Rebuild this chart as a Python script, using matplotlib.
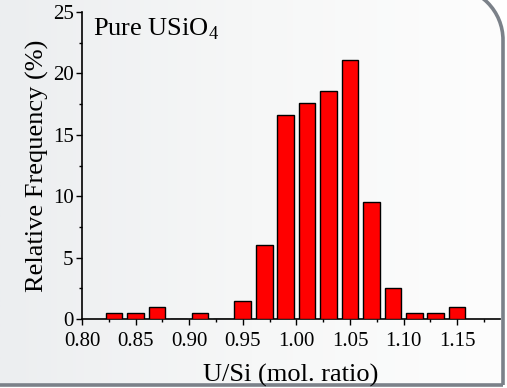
import numpy as np
import matplotlib
matplotlib.use("Agg")
import matplotlib.pyplot as plt
from matplotlib.ticker import MultipleLocator, FormatStrFormatter
from matplotlib.patches import Arc
from matplotlib.colors import LinearSegmentedColormap

# Data
bin_centers = [0.83, 0.85, 0.87, 0.89, 0.91, 0.93, 0.95, 0.97, 0.99, 1.01, 1.03, 1.05, 1.07, 1.09, 1.11, 1.13, 1.15]
rel_freq    = [0.5,  0.5,  1.0,  0.0,  0.5,  0.0,  1.5,  6.0,  16.6, 17.6, 18.6, 21.1, 9.5,  2.5,  0.5,  0.5,  1.0]
x_ticks = [0.80, 0.85, 0.90, 0.95, 1.00, 1.05, 1.10, 1.15]
y_ticks = [0, 5, 10, 15, 20, 25]

plt.rcParams['font.family'] = ['Liberation Serif', 'DejaVu Serif']
plt.rcParams['mathtext.fontset'] = 'custom'
plt.rcParams['mathtext.rm'] = 'Liberation Serif'

W, H = 507, 388
fig = plt.figure(figsize=(W/100, H/100), dpi=100)
fig.patch.set_facecolor('white')

# background with gradient and border (pixel coordinates)
bg = fig.add_axes([0, 0, 1, 1], zorder=0)
bg.set_xlim(0, W)
bg.set_ylim(H, 0)
bg.axis('off')
grad = np.linspace(0, 1, 256)[None, :]
cmap = LinearSegmentedColormap.from_list('g', ['#eceef0', '#f6f7f7', '#fdfdfd'])
bg.imshow(grad, cmap=cmap, extent=(0, 503, 385, -20), aspect='auto', zorder=0)
bc = '#7b8189'
bg.plot([0, 503], [385, 385], color=bc, lw=2.6, solid_capstyle='butt', zorder=2)
bg.plot([503, 503], [385, 40], color=bc, lw=2.6, solid_capstyle='butt', zorder=2)
bg.add_patch(Arc((450, 40), 106, 106, theta1=270, theta2=360, color=bc, lw=2.6, zorder=2))
# white outside the rounded corner
theta = np.linspace(0, np.pi/2, 60)
cx = 450 + 53*np.cos(theta)
cy = 40 - 53*np.sin(theta)
px = np.concatenate([[504, 504], cx[::-1], [504]])
py = np.concatenate([[40, -20], cy[::-1], [40]])
bg.fill(np.concatenate([cx, [510, 510]]), np.concatenate([cy, [-20, 40]]), color='white', zorder=1, lw=0)
bg.add_patch(plt.Rectangle((503, -20), 10, 420, color='white', zorder=1))

ax = fig.add_axes([82/W, 69/H, 418/W, 307/H], zorder=1)
ax.set_facecolor('none')
ax.bar(bin_centers, rel_freq, width=0.0155, color='#ff0000', edgecolor='black', linewidth=1.0, zorder=3)

ax.set_xlim(0.80, 1.19)
ax.set_ylim(0, 25)
ax.set_xticks(x_ticks)
ax.set_yticks(y_ticks)
ax.xaxis.set_major_formatter(FormatStrFormatter('%.2f'))
ax.xaxis.set_minor_locator(MultipleLocator(0.025))
ax.yaxis.set_minor_locator(MultipleLocator(2.5))
ax.tick_params(which='major', direction='out', length=4, width=1, labelsize=15, pad=2)
ax.tick_params(axis='x', which='major', pad=5)
ax.tick_params(which='minor', direction='out', length=2.5, width=1)
for s in ['top', 'right']:
    ax.spines[s].set_visible(False)
for s in ['left', 'bottom']:
    ax.spines[s].set_linewidth(1.2)

ax.set_xlabel('U/Si (mol. ratio)', fontsize=19, labelpad=10)
ax.set_ylabel('Relative Frequency (%)', fontsize=19, labelpad=3)
ax.text(0.027, 0.985, r'Pure USiO$_4$', transform=ax.transAxes, fontsize=19, va='top', ha='left')

fig.savefig('out.png', dpi=100, facecolor=fig.get_facecolor())
